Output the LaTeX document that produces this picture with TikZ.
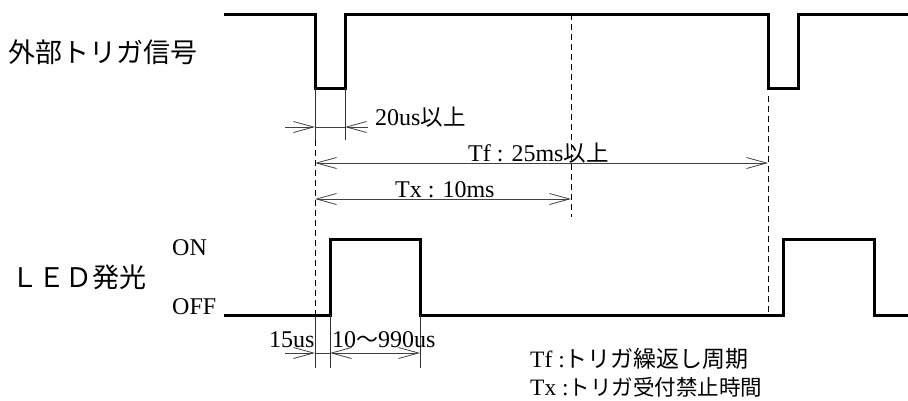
\documentclass[tikz,border=0pt]{standalone}
\usepackage{fontspec}
\setmainfont{Liberation Serif}
\newfontfamily\jp{Noto Sans CJK JP}
\usetikzlibrary{arrows.meta}
\begin{document}
\begin{tikzpicture}[x=1pt,y=-1pt,
  sig/.style={line width=3pt, line join=miter},
  dim/.style={line width=0.8pt, black!75},
  barb/.tip={Straight Barb[length=20pt,width=11pt,line width=0.8pt]},
  tipend/.style={-barb},
  both/.style={barb-barb},
  guide/.style={line width=0.8pt, dash pattern=on 6pt off 4pt},
  ext/.style={line width=0.8pt, black!80},
  lab/.style={inner sep=0pt, anchor=base west, font=\fontsize{24}{26}\selectfont},
  big/.style={inner sep=0pt, anchor=west, font=\jp\fontsize{27}{29}\selectfont},
  note/.style={inner sep=0pt, anchor=base west, font=\fontsize{23.5}{25}\selectfont}
]
\path[use as bounding box] (0,0) rectangle (908,400);

% key coordinates
\coordinate (trA) at (315,88);
\coordinate (trB) at (345,88);
\coordinate (trC) at (768,88);
\coordinate (ledA) at (330,315);
\coordinate (ledB) at (420,315);

% signals
\draw[sig] (224,14) -- (315,14) -- (trA) -- (trB) -- (345,14) -- (768,14) -- (trC) -- (798,88) -- (798,14) -- (908,14);
\draw[sig] (224,315) -- (ledA) -- (330,239) -- (420,239) -- (ledB) -- (783,315) -- (783,239) -- (874,239) -- (874,315) -- (908,315);

% extension / guide lines
\coordinate (e1) at (315,140);
\coordinate (e2) at (315,317);
\coordinate (e3) at (315,368);
\draw[ext] (trA) -- (e1);
\draw[guide] (e1) -- (e2);
\draw[ext] (e2) -- (e3);
\coordinate (e4) at (345,140);
\draw[ext] (trB) -- (e4);
\coordinate (e5) at (330,368);
\draw[ext] (ledA) -- (e5);
\coordinate (e6) at (420,368);
\draw[ext] (ledB) -- (e6);
\coordinate (g1) at (571,14);
\coordinate (g2) at (571,217);
\draw[guide] (g1) -- (g2);
\coordinate (g3) at (768,96);
\coordinate (g4) at (768,315);
\draw[guide] (g3) -- (g4);

% dimensions
\coordinate (d1a) at (285,127);
\coordinate (d1b) at (315,127);
\coordinate (d1c) at (345,127);
\coordinate (d1d) at (368,127);
\draw[dim] (d1b) -- (d1c);
\draw[dim,tipend] (d1a) -- (d1b);
\draw[dim,tipend] (d1d) -- (d1c);

\coordinate (tfa) at (315,163);
\coordinate (tfb) at (768,163);
\draw[dim,both] (tfa) -- (tfb);
\coordinate (txa) at (315,199);
\coordinate (txb) at (571,199);
\draw[dim,both] (txa) -- (txb);

\coordinate (d2a) at (285,353);
\coordinate (d2b) at (315,353);
\coordinate (d2c) at (330,353);
\coordinate (d2d) at (420,353);
\draw[dim,tipend] (d2a) -- (d2b);
\draw[dim] (d2b) -- (d2c);
\draw[dim,both] (d2c) -- (d2d);

% labels
\node[big] (l1) at (8,52) {外部トリガ信号};
\node[big] (l2) at (11,277) {ＬＥＤ発光};
\node[lab] (on) at (172,255) {ON};
\node[lab] (off) at (172,314) {OFF};
\node[lab] (t20) at (375,125) {20us{\jp\fontsize{22.5}{24}\selectfont 以上}};
\node[lab] (ttf) at (468,161) {Tf : 25ms{\jp\fontsize{22.5}{24}\selectfont 以上}};
\node[lab] (ttx) at (395,197) {Tx : 10ms};
\node[lab] (t15) at (269,347) {15us};
\node[lab] (t10) at (332,347) {10{\jp\fontsize{22}{24}\selectfont 〜}990us};
\node[note] (n1) at (530,367) {Tf :{\jp\fontsize{23}{24}\selectfont トリガ繰返し周期}};
\node[note] (n2) at (530,395) {Tx :{\jp\fontsize{21.5}{24}\selectfont トリガ受付禁止時間}};
\end{tikzpicture}
\end{document}
